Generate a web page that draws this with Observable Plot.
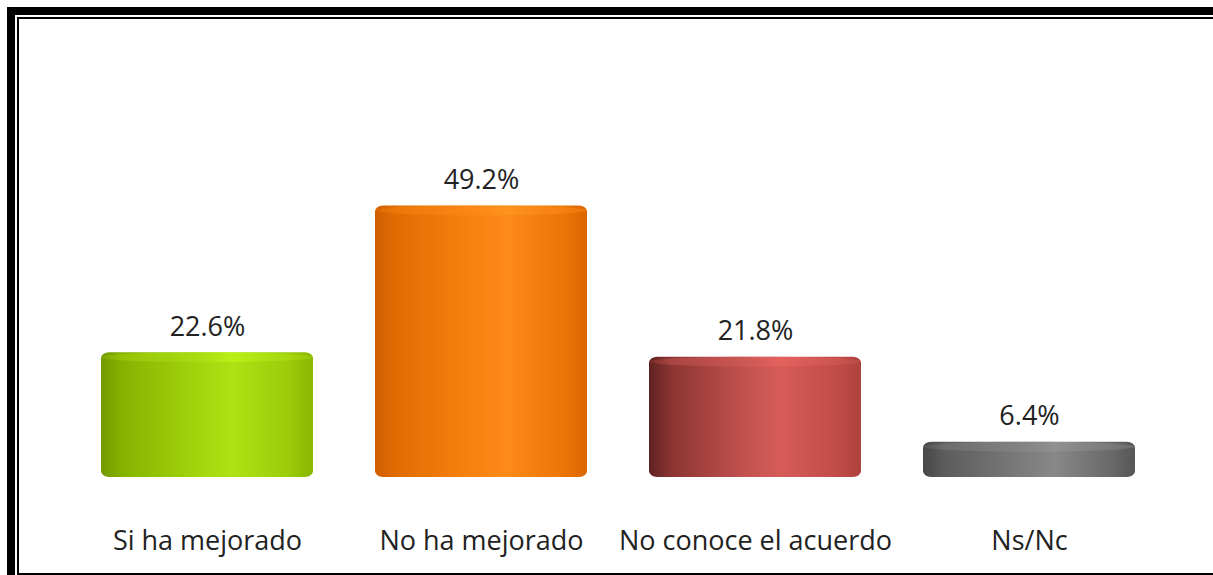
<!DOCTYPE html>
<html>
<head>
<meta charset="utf-8">
<script src="https://cdn.jsdelivr.net/npm/d3@7"></script>
<script src="https://cdn.jsdelivr.net/npm/@observablehq/plot@0.6"></script>
<style>
  html, body { margin: 0; padding: 0; background: #fff; }
  #wrap { position: relative; width: 1213px; height: 575px; overflow: hidden; background: #fff; }
  #chart { position: absolute; left: 0; top: 0; }
  .outer { position: absolute; left: 7px; top: 7px; width: 1206px; height: 568px;
           border-left: 8px solid #000; border-top: 8px solid #000; box-sizing: border-box; }
  .inner { position: absolute; left: 17px; top: 17px; width: 1196px; height: 558px;
           border-left: 2px solid #000; border-top: 2px solid #000; border-bottom: 2px solid #000; box-sizing: border-box; }
</style>
</head>
<body>
<div id="wrap">
  <div id="chart"></div>
  <div class="outer"></div>
  <div class="inner"></div>
</div>
<script>
const categories = ["Si ha mejorado", "No ha mejorado", "No conoce el acuerdo", "Ns/Nc"];
const values = [22.6, 49.2, 21.8, 6.4];
const valueLabels = ["22.6%", "49.2%", "21.8%", "6.4%"];

// gradient palettes (dark edge -> highlight -> edge)
const palettes = [
  ["#739a00", "#86b200", "#a2d40c", "#ade214", "#9ccc0a", "#8ab600"],
  ["#cf5e00", "#e06c02", "#f8820f", "#fd8a1c", "#ec7606", "#dc6600"],
  ["#5e2220", "#8a3432", "#c25250", "#d65c58", "#c24c48", "#ae423e"],
  ["#474747", "#5c5c5c", "#7a7a7a", "#888888", "#6a6a6a", "#565656"]
];

const data = categories.map((c, i) => ({category: c, value: values[i], label: valueLabels[i]}));
const font = "'Open Sans', 'Noto Sans', sans-serif";

const marks = [];
data.forEach((d, i) => {
  marks.push(Plot.barY([d], {x: "category", y: "value", fill: `url(#body${i})`, rx: 8, ry: 6}));
  marks.push(Plot.barY([d], {x: "category", y1: e => e.value - 1.8, y2: "value", fill: `url(#cap${i})`, rx: 106, ry: 5, fillOpacity: 0.55}));
});
marks.push(Plot.text(data, {x: "category", y: "value", text: "label", dy: -17, lineAnchor: "bottom",
  fontSize: 27, fontFamily: font, fill: "#222"}));
marks.push(Plot.axisX({tickSize: 0, tickPadding: 53, fontSize: 27, fontFamily: font, color: "#222", label: null}));

const plot = Plot.plot({
  width: 1213,
  height: 575,
  marginLeft: 37.5,
  marginRight: 13.5,
  marginTop: 201,
  marginBottom: 98,
  x: {domain: categories, padding: 0.2255, axis: null},
  y: {domain: [0, 50], axis: null},
  style: {background: "transparent", fontFamily: font},
  marks
});

const defs = d3.select(plot).insert("defs", ":first-child");
palettes.forEach((p, i) => {
  const g = defs.append("linearGradient").attr("id", `body${i}`).attr("x1", 0).attr("x2", 1).attr("y1", 0).attr("y2", 0);
  [[0, p[0]], [0.1, p[1]], [0.45, p[2]], [0.62, p[3]], [0.88, p[4]], [1, p[5]]].forEach(([o, c]) =>
    g.append("stop").attr("offset", o).attr("stop-color", c));
  const c = defs.append("linearGradient").attr("id", `cap${i}`).attr("x1", 0).attr("x2", 1).attr("y1", 0).attr("y2", 0);
  [[0, p[1]], [0.1, p[2]], [0.45, p[3]], [0.62, d3.color(p[3]).brighter(0.3).formatHex()], [0.88, p[3]], [1, p[2]]].forEach(([o, col]) =>
    c.append("stop").attr("offset", o).attr("stop-color", col));
});

document.getElementById("chart").appendChild(plot);
</script>
</body>
</html>
